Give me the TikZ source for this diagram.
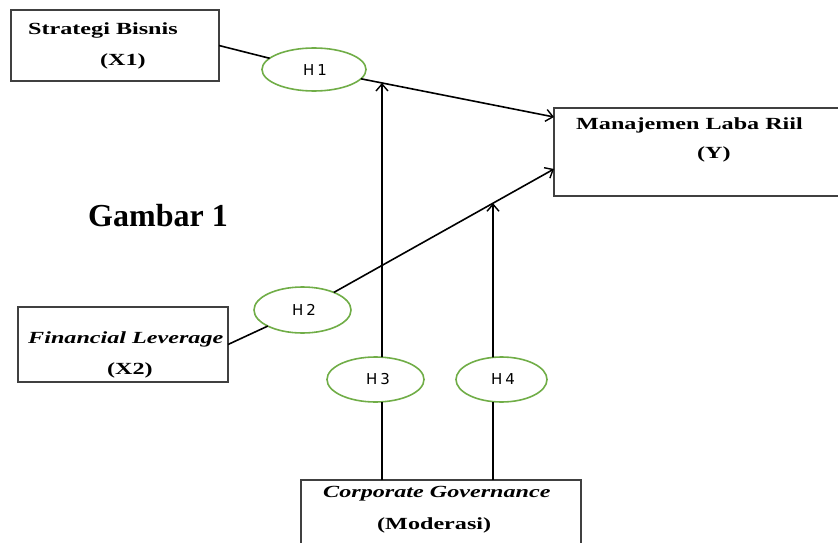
\documentclass[tikz,border=0pt]{standalone}
\usepackage{fontspec}
\setmainfont{Liberation Serif}
\newfontfamily\lblfont[FakeStretch=1.42]{Liberation Serif}
\newfontfamily\hfont[LetterSpace=20]{DejaVu Sans}
\usetikzlibrary{arrows.meta,shapes.geometric}
\definecolor{hgreen}{HTML}{70AD47}
\definecolor{boxgray}{HTML}{404040}
\tikzset{
  varbox/.style={draw=boxgray, line width=1.3pt, inner sep=0pt, outer sep=0pt, anchor=north west, rectangle},
  hyp/.style={ellipse, draw=hgreen, line width=1.6pt, inner sep=0pt, outer sep=0pt},
  hlabel/.style={font=\hfont\fontsize{15}{17}\selectfont, inner sep=0pt},
  lbl/.style={anchor=base west, inner sep=0pt, font=\lblfont\bfseries\fontsize{17}{20}\selectfont},
  lbli/.style={anchor=base west, inner sep=0pt, font=\lblfont\bfseries\itshape\fontsize{17}{20}\selectfont},
  conn/.style={draw=black, line width=1.6pt},
  arr/.style={conn, -{Straight Barb[length=7pt,width=12pt,line width=1.4pt]}},
}
\begin{document}
\begin{tikzpicture}[x=1pt,y=-1pt]
\useasboundingbox (0,0) rectangle (838,543);
\clip (0,0) rectangle (838,543);
% boxes
\node[varbox, minimum width=208pt, minimum height=71pt] (x1) at (11,10) {};
\node[varbox, minimum width=310pt, minimum height=88pt] (y) at (554,108) {};
\node[varbox, minimum width=210pt, minimum height=75pt] (x2) at (18,307) {};
\node[varbox, minimum width=280pt, minimum height=90pt] (mod) at (301,480) {};
% box texts
\node[lbl] (t1a) at (28,35) {Strategi Bisnis};
\node[lbl] (t1b) at (100,66) {(X1)};
\node[lbl] (tya) at (576,129) {Manajemen Laba Riil};
\node[lbl] (tyb) at (697,158) {(Y)};
\node[lbli] (t2a) at (28,343) {Financial Leverage};
\node[lbl] (t2b) at (107,374) {(X2)};
\node[lbli] (tma) at (323,497) {Corporate Governance};
\node[lbl] (tmb) at (377,529) {(Moderasi)};
\node[anchor=base west, inner sep=0pt, font=\bfseries\fontsize{32}{38}\selectfont] (gam) at (88,226) {Gambar 1};
% hypotheses
\node[hyp, minimum width=104pt, minimum height=43pt] (h1) at (314,69.5) {};
\node[hyp, minimum width=97pt, minimum height=46pt] (h2) at (302.5,310) {};
\node[hyp, minimum width=97pt, minimum height=45pt] (h3) at (375.5,379.5) {};
\node[hyp, minimum width=91pt, minimum height=45pt] (h4) at (501.5,379.5) {};
\node[hlabel] (l1) at (315,70) {H1};
\node[hlabel] (l2) at (304,310) {H2};
\node[hlabel] (l3) at (378,379.5) {H3};
\node[hlabel] (l4) at (503,379.5) {H4};
% coordinates
\coordinate (yin1) at ([yshift=35pt]y.west);
\coordinate (yin2) at ([yshift=-17pt]y.west);
\coordinate (h3b) at (382,401.8);
\coordinate (h3t) at (382,357.2);
\coordinate (h4b) at (493,401.6);
\coordinate (h4t) at (493,357.4);
% connectors
\draw[conn] (x1.east) -- (h1);
\draw[arr] (h1) -- (yin1);
\draw[conn] (x2.east) -- (h2);
\draw[arr] (h2) -- (yin2);
\draw[conn] (mod.north -| h3b) -- (h3b);
\draw[arr] (h3t) -- (intersection of h1--yin1 and h3t--h3b);
\draw[conn] (mod.north -| h4b) -- (h4b);
\draw[arr] (h4t) -- (intersection of h2--yin2 and h4t--h4b);
\end{tikzpicture}
\end{document}
